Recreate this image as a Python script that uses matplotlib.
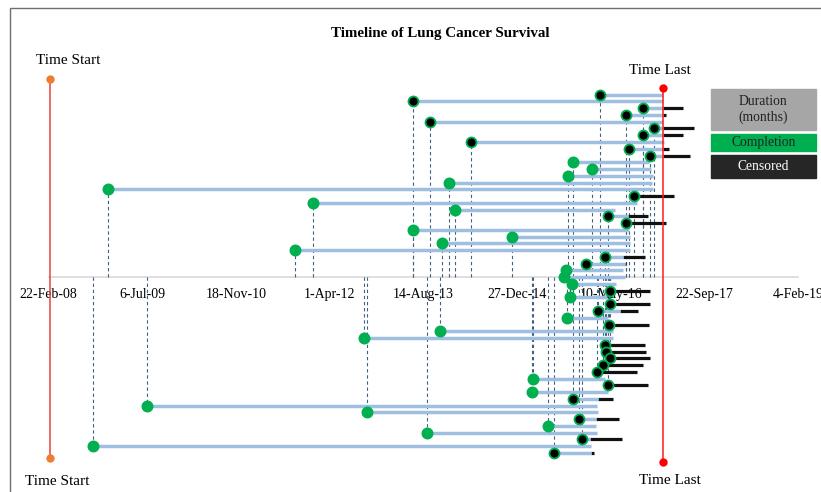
import matplotlib
matplotlib.use("Agg")
import matplotlib.pyplot as plt
import matplotlib.dates as mdates
from matplotlib.patches import Rectangle
import numpy as np
import pandas as pd

plt.rcParams['font.family'] = ['Liberation Serif', 'DejaVu Serif']

# patient records, listed top row first
start_dates = [
    '2016-03-14', '2013-06-22', '2016-10-31', '2016-07-29', '2013-09-19', '2016-12-29',
    '2016-10-31', '2014-04-24', '2016-08-17', '2016-12-06', '2015-10-23', '2016-02-02',
    '2015-09-27', '2013-12-31', '2009-01-04', '2016-09-13', '2012-01-05', '2014-01-30',
    '2016-04-24', '2016-07-29', '2013-06-18', '2014-11-29', '2013-11-23', '2011-09-29',
    '2016-04-11', '2015-12-29', '2015-09-14', '2015-09-04', '2015-10-16', '2016-05-06',
    '2015-10-06', '2016-05-06', '2016-03-05', '2015-09-18', '2016-05-03', '2013-11-11',
    '2012-10-02', '2016-04-10', '2016-04-15', '2016-05-06', '2016-04-01', '2016-02-28',
    '2015-03-21', '2016-04-24', '2015-03-15', '2015-10-20', '2009-08-02', '2012-10-16',
    '2015-11-23', '2015-06-10', '2013-09-04', '2015-12-10', '2008-10-18', '2015-07-14',
]
duration_months = [
    11.1, 43.8, 3.5, 6.6, 40.9, 1.6,
    3.5, 33.8, 6.0, 2.3, 13.3, 10.3,
    14.8, 35.5, 95.5, 0.5, 56.7, 28.0,
    3.6, 0.8, 37.9, 20.7, 33.0, 58.8,
    3.1, 6.9, 10.0, 10.7, 7.7, 0.5,
    6.5, 0.5, 3.8, 7.2, 0.5, 30.3,
    43.6, 0.5, 0.5, 0.5, 0.5, 0.5,
    12.7, 0.5, 13.4, 4.5, 78.9, 40.6,
    3.0, 8.4, 29.8, 1.3, 87.2, 6.4,
]
# 1 = censored, 0 = completion
censored = [
    1, 1, 1, 1, 1, 1,
    1, 1, 1, 1, 0, 0,
    0, 0, 0, 1, 0, 0,
    1, 1, 0, 0, 0, 0,
    1, 1, 0, 0, 0, 1,
    0, 1, 1, 0, 1, 0,
    0, 1, 1, 1, 1, 1,
    0, 1, 0, 1, 0, 0,
    1, 0, 0, 1, 0, 1,
]
censor_tail_months = 7.0

time_start = '2008-03-01'
time_last = '2017-02-15'

tick_dates = ['2008-02-22', '2009-07-06', '2010-11-18', '2012-04-01', '2013-08-14',
              '2014-12-27', '2016-05-10', '2017-09-22', '2019-02-04']
tick_labels = ['22-Feb-08', '6-Jul-09', '18-Nov-10', '1-Apr-12', '14-Aug-13',
               '27-Dec-14', '10-May-16', '22-Sep-17', '4-Feb-19']

GREEN = '#00b050'
BLUE = '#9fbfe0'
DASH = '#44607f'
W, H = 821, 492

start = mdates.date2num(pd.to_datetime(start_dates))
dur = np.array(duration_months) * 30.44
cens = np.array(censored, dtype=bool)
rows = np.arange(27, 27 - len(start_dates), -1)

fig = plt.figure(figsize=(W / 100, H / 100), dpi=100)
ax = fig.add_axes([48.5 / W, 1 - 486.8 / H, (798.1 - 48.5) / W, (486.8 - 54.1) / H])

# drop lines to the time axis
ax.vlines(start, 0, rows, colors=DASH, linewidth=0.8, linestyles=(0, (3, 2.5)), zorder=1)

# censored follow-up tail: only the part sticking out past the duration bar
tail_end = start + censor_tail_months * 30.44
show = cens & (tail_end > start + dur)
ax.hlines(rows[show], (start + dur)[show], tail_end[show],
          colors='#111111', linewidth=2.3, zorder=2)
ax.hlines(rows, start, start + dur, colors=BLUE, linewidth=2.5, zorder=3)

ax.plot(start[~cens], rows[~cens], 'o', ms=7.6, color=GREEN, mec=GREEN, zorder=5)
ax.plot(start[cens], rows[cens], 'o', ms=7.2, color='black', mec=GREEN, mew=1.3, zorder=5)

# study window
ts = mdates.date2num(pd.Timestamp(time_start))
tl = mdates.date2num(pd.Timestamp(time_last))
ax.plot([ts, ts], [29.3, -26.8], color='#e8413c', lw=1.1, zorder=4, clip_on=False)
ax.plot([tl, tl], [28.0, -27.3], color='#ff1a1a', lw=1.1, zorder=4, clip_on=False)
ax.plot([ts, ts], [29.3, -26.8], 'o', ms=5, color='#ed7d31', zorder=6, clip_on=False)
ax.plot([tl, tl], [28.0, -27.3], 'o', ms=5, color='#ff0000', zorder=6, clip_on=False)
for x, y, dx, dy in [(ts, 29.3, 18, 19), (ts, -26.8, 7, -23), (tl, 28.0, -3, 17), (tl, -27.3, 7, -19)]:
    label = 'Time Start' if x == ts else 'Time Last'
    ax.annotate(label, (x, y), xytext=(dx, dy), textcoords='offset pixels',
                ha='center', va='center', fontsize=11)

ax.set_xlim(mdates.date2num(pd.Timestamp(tick_dates[0])), mdates.date2num(pd.Timestamp(tick_dates[-1])))
ax.set_ylim(-31, 33)
ax.set_xticks(mdates.date2num(pd.to_datetime(tick_dates)))
ax.set_xticklabels(tick_labels, fontsize=12)
ax.tick_params(axis='x', length=0, pad=8)
ax.set_yticks([])
for side in ['left', 'right', 'top']:
    ax.spines[side].set_visible(False)
ax.spines['bottom'].set_position(('data', 0))
ax.spines['bottom'].set_color('#d9d9d9')
ax.spines['bottom'].set_linewidth(1.2)
ax.spines['bottom'].set_zorder(0)

fig.text(440 / W, 1 - 33 / H, 'Timeline of Lung Cancer Survival', ha='center', va='center',
         fontsize=10.8, fontweight='bold')

# key boxes on the right
def box(x0, y0, x1, y1, color, text, tcolor):
    fig.patches.append(Rectangle((x0 / W, 1 - y1 / H), (x1 - x0) / W, (y1 - y0) / H,
                                 transform=fig.transFigure, color=color, zorder=1))
    fig.text((x0 + x1) / 2 / W, 1 - (y0 + y1) / 2 / H, text, ha='center', va='center',
             color=tcolor, fontsize=9.8, linespacing=1.3)

box(711, 89, 816, 130, '#a6a6a6', 'Duration\n(months)', '#222222')
box(711, 134, 816, 151, GREEN, 'Completion', '#222222')
box(711, 155, 816, 178, '#262626', 'Censored', 'white')

# outer frame
fig.patches.append(Rectangle((9.5 / W, -0.1), 1.2, 1 - 7.5 / H + 0.1, transform=fig.transFigure,
                             fill=False, edgecolor='#6f6f6f', lw=1.0))

fig.savefig('out.png', dpi=100)
